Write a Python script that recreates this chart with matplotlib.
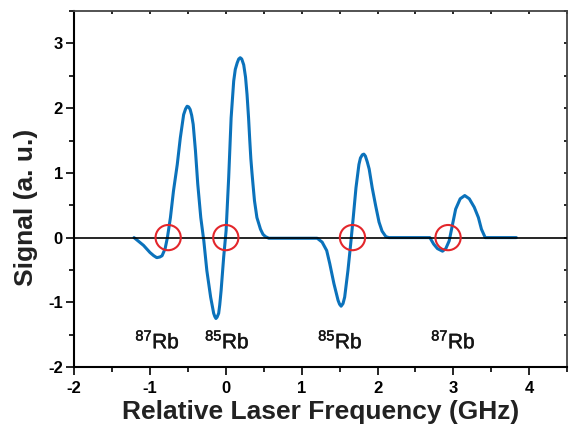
#!/usr/bin/env python3

import matplotlib

matplotlib.use("Agg")
import matplotlib.patheffects as path_effects
import matplotlib.pyplot as plt
from matplotlib.ticker import MultipleLocator


FREQ_GHZ = [
    -1.21, -1.085, -1.00, -0.95, -0.91, -0.87, -0.84, -0.80, -0.77, -0.73,
    -0.69, -0.64, -0.60, -0.556, -0.53, -0.51, -0.49, -0.47, -0.45, -0.43,
    -0.40, -0.37, -0.33, -0.29, -0.25, -0.20, -0.16, -0.145, -0.13, -0.115,
    -0.094, -0.08, -0.062, -0.028, 0.004, 0.038, 0.07, 0.104, 0.125, 0.15,
    0.17, 0.19, 0.21, 0.236, 0.26, 0.28, 0.30, 0.316, 0.33, 0.345,
    0.36, 0.378, 0.41, 0.457, 0.49, 0.523, 0.567, 1.205, 1.27, 1.33,
    1.37, 1.425, 1.48, 1.50, 1.52, 1.545, 1.567, 1.61, 1.646, 1.68,
    1.716, 1.755, 1.775, 1.80, 1.82, 1.84, 1.865, 1.89, 1.93, 1.976,
    2.02, 2.06, 2.11, 2.15, 2.69, 2.74, 2.79, 2.857, 2.90, 2.945,
    2.99, 3.03, 3.09, 3.15, 3.21, 3.275, 3.33, 3.37, 3.42, 3.83,
]
SIGNAL = [
    0.0, -0.12, -0.23, -0.28, -0.31, -0.30, -0.28, -0.17, 0.0, 0.31,
    0.72, 1.13, 1.54, 1.90, 1.99, 2.03, 2.02, 1.98, 1.89, 1.75,
    1.34, 0.83, 0.31, -0.05, -0.51, -0.92, -1.17, -1.22, -1.25, -1.23,
    -1.17, -1.04, -0.82, -0.30, 0.11, 0.93, 1.85, 2.42, 2.60, 2.70,
    2.76, 2.78, 2.76, 2.67, 2.48, 2.21, 1.85, 1.50, 1.22, 1.00,
    0.80, 0.57, 0.31, 0.13, 0.05, 0.015, -0.01, -0.01, -0.07, -0.20,
    -0.40, -0.71, -0.97, -1.03, -1.06, -1.02, -0.92, -0.51, -0.10, 0.31,
    0.77, 1.13, 1.23, 1.28, 1.29, 1.26, 1.17, 1.06, 0.77, 0.49,
    0.24, 0.10, 0.015, 0.0, 0.0, -0.10, -0.17, -0.21, -0.17, -0.05,
    0.21, 0.44, 0.60, 0.65, 0.60, 0.47, 0.31, 0.13, 0.0, 0.0,
]

CROSSINGS_GHZ = [-0.76, 0.0, 1.67, 2.93]

LABEL_X = [-0.90, 0.02, 1.51, 3.00]
LABEL_Y = -1.71
LABELS = ["$^{87}$Rb", "$^{85}$Rb", "$^{85}$Rb", "$^{87}$Rb"]

BLUE = "#0b72bb"
RED = "#e3262b"


def main():
    plt.rcParams["font.family"] = ["Liberation Sans", "DejaVu Sans"]
    plt.rcParams["mathtext.default"] = "regular"
    plt.rcParams["axes.unicode_minus"] = False

    figure = plt.figure(figsize=(5.7, 4.28), dpi=100)
    axis = figure.add_axes((0.130, 0.1425, 0.865, 0.8315))

    axis.plot(FREQ_GHZ, SIGNAL, color=BLUE, linewidth=2.2, zorder=2,
              solid_capstyle="round", solid_joinstyle="round")
    axis.axhline(0, color="black", linewidth=1.2, zorder=3)
    axis.scatter(CROSSINGS_GHZ, [0] * len(CROSSINGS_GHZ), s=330,
                 facecolors="none", edgecolors=RED, linewidths=1.5, zorder=4)

    # slightly heavier strokes, closer to the condensed face of the original
    stroke = [path_effects.withStroke(linewidth=0.3, foreground="#151515")]
    for x, text in zip(LABEL_X, LABELS):
        axis.text(x, LABEL_Y, text, ha="center", va="baseline", fontsize=15,
                  color="#151515", path_effects=stroke)

    axis.set_xlim(-2, 4.5)
    axis.set_ylim(-2, 3.5)
    axis.xaxis.set_major_locator(MultipleLocator(1))
    axis.xaxis.set_minor_locator(MultipleLocator(0.5))
    axis.yaxis.set_major_locator(MultipleLocator(1))
    axis.yaxis.set_minor_locator(MultipleLocator(0.5))

    axis.tick_params(which="both", direction="out", width=1.2,
                     labelsize=12, top=False, right=False)
    axis.tick_params(which="major", length=6)
    axis.tick_params(which="minor", length=3.5)
    axis.tick_params(axis="x", which="major", pad=4)
    axis.tick_params(axis="y", which="major", pad=2)
    for label in axis.get_xticklabels() + axis.get_yticklabels():
        label.set_fontweight("bold")

    for side in ("left", "bottom"):
        axis.spines[side].set_linewidth(1.5)
    for side in ("top", "right"):
        axis.spines[side].set_linewidth(1.3)
        axis.spines[side].set_color("#444444")

    secondary_x = axis.secondary_xaxis("top")
    secondary_x.xaxis.set_major_locator(MultipleLocator(0.5))
    secondary_x.tick_params(direction="in", length=2.5, width=1.2,
                            labeltop=False)
    secondary_x.spines["top"].set_visible(False)
    secondary_y = axis.secondary_yaxis("right")
    secondary_y.yaxis.set_major_locator(MultipleLocator(0.5))
    secondary_y.tick_params(direction="in", length=2.5, width=1.2,
                            labelright=False)
    secondary_y.spines["right"].set_visible(False)

    axis.set_xlabel("Relative Laser Frequency (GHz)", fontsize=19,
                    fontweight="bold", labelpad=3, color="#222222")
    axis.set_ylabel("Signal (a. u.)", fontsize=19, fontweight="bold",
                    color="#222222")
    axis.yaxis.set_label_coords(-0.074, 0.448)

    figure.savefig("out.png", dpi=100)
    plt.close(figure)


if __name__ == "__main__":
    main()
